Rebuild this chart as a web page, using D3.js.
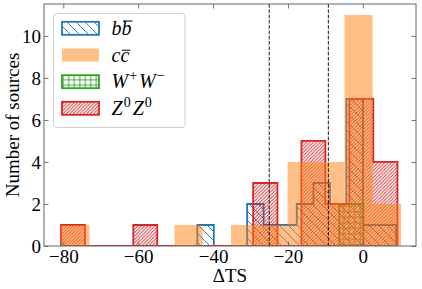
<!DOCTYPE html>
<html>
<head>
<meta charset="utf-8">
<script src="https://cdn.jsdelivr.net/npm/d3@7"></script>
<style>
  body { margin: 0; background: #fff; }
  svg text { font-family: "Liberation Serif", "DejaVu Serif", serif; }
</style>
</head>
<body>
<div id="chart"></div>
<script>
// histogram bins (edges in ΔTS, counts = number of sources)
const bbEdges = [-44.2, -39.8, -35.35, -30.9, -26.5, -22.1, -17.65, -13.2, -8.8, -4.4, 0.05, 4.5, 8.9];
const bbCounts = [1, 0, 0, 2, 1, 1, 2, 3, 2, 7, 1, 1];

const ccEdges = [-80.6, -73.0, -65.5, -57.9, -50.3, -42.8, -35.2, -27.6, -20.1, -12.5, -4.9, 2.6, 10.2];
const ccCounts = [1, 0, 0, 0, 1, 0, 1, 1, 4, 4, 11, 2];

const wwEdges = [-6.3, -3.1, 0.15];
const wwCounts = [2, 2];

const zzEdges = [-80.6, -74.2, -67.8, -61.3, -54.9, -48.5, -42.1, -35.7, -29.3, -22.8, -16.4, -10.0, -3.6, 2.8, 9.25];
const zzCounts = [1, 0, 0, 1, 0, 0, 0, 0, 3, 0, 5, 2, 7, 4];

const thresholds = [-25, -9.21];
const xTicks = [-80, -60, -40, -20, 0];
const yTicks = [0, 2, 4, 6, 8, 10];

const W = 422, H = 289;
const plot = { left: 44, right: 416, top: 4, bottom: 246 };
const fontSize = 19;

const svg = d3.select("#chart").append("svg")
    .attr("width", W)
    .attr("height", H);

const x = d3.scaleLinear().domain([-85.15, 14.2]).range([plot.left, plot.right]);
const y = d3.scaleLinear().domain([0, 11.52]).range([plot.bottom, plot.top]);

const defs = svg.append("defs");

// hatch patterns
function diagPattern(id, size, color, dir) {
    let p = defs.append("pattern")
        .attr("id", id)
        .attr("patternUnits", "userSpaceOnUse")
        .attr("width", size)
        .attr("height", size);
    let s = size;
    let d = dir === "/"
        ? `M${-s},${s} L${s},${-s} M0,${s * 2} L${s * 2},0 M0,${s} L${s},0`
        : `M0,0 L${s},${s} M${-s},0 L${s},${s * 2} M0,${-s} L${s * 2},${s}`;
    p.append("path")
        .attr("d", d)
        .attr("stroke", color)
        .attr("stroke-width", 0.9)
        .attr("fill", "none");
}
diagPattern("hatchBlue", 9, "#1f77b4", "\\");
diagPattern("hatchRed", 3.4, "#d62728", "/");

let grid = defs.append("pattern")
    .attr("id", "hatchGreen")
    .attr("patternUnits", "userSpaceOnUse")
    .attr("width", 5.5)
    .attr("height", 5.5);
grid.append("path")
    .attr("d", "M2.75,0 V5.5 M0,2.75 H5.5")
    .attr("stroke", "#2ca02c")
    .attr("stroke-width", 0.9)
    .attr("fill", "none");

defs.append("clipPath").attr("id", "plotClip")
    .append("rect")
    .attr("x", plot.left).attr("y", plot.top)
    .attr("width", plot.right - plot.left)
    .attr("height", plot.bottom - plot.top);

const g = svg.append("g").attr("clip-path", "url(#plotClip)");

// step outline of a histogram, closed along the baseline
const line = d3.line().x(d => x(d[0])).y(d => y(d[1]));
function stepPoints(edges, counts) {
    let pts = [[edges[0], 0]];
    counts.forEach((c, i) => {
        pts.push([edges[i], c]);
        pts.push([edges[i + 1], c]);
    });
    pts.push([edges[edges.length - 1], 0]);
    return pts;
}

const steps = [
    { edges: bbEdges, counts: bbCounts, color: "#1f77b4", hatch: "url(#hatchBlue)" },
    { edges: wwEdges, counts: wwCounts, color: "#2ca02c", hatch: "url(#hatchGreen)" },
    { edges: zzEdges, counts: zzCounts, color: "#d62728", hatch: "url(#hatchRed)" }
];

steps.forEach(s => {
    g.append("path")
        .attr("d", line(stepPoints(s.edges, s.counts)) + "Z")
        .attr("fill", s.hatch)
        .attr("stroke", s.color)
        .attr("stroke-width", 1.8)
        .attr("stroke-linejoin", "miter");
});

// c cbar: filled bars, translucent, drawn on top
const ccBins = ccCounts.map((c, i) => ({ x0: ccEdges[i], x1: ccEdges[i + 1], c: c }))
    .filter(d => d.c > 0);
g.selectAll(".ccbar").data(ccBins).enter()
    .append("rect")
    .attr("class", "ccbar")
    .attr("x", d => x(d.x0))
    .attr("y", d => y(d.c))
    .attr("width", d => x(d.x1) - x(d.x0))
    .attr("height", d => y(0) - y(d.c))
    .attr("fill", "#ff7f0e")
    .attr("fill-opacity", 0.5);

// threshold lines
g.selectAll(".thr").data(thresholds).enter()
    .append("line")
    .attr("x1", d => x(d)).attr("x2", d => x(d))
    .attr("y1", plot.top).attr("y2", plot.bottom)
    .attr("stroke", "#000")
    .attr("stroke-width", 0.9)
    .attr("stroke-dasharray", "3.7,1.6");

// axes
const spineColor = "#666";
function styleAxis(sel) {
    sel.select(".domain").remove();
    sel.selectAll(".tick line").attr("stroke", spineColor).attr("stroke-width", 0.9);
    sel.selectAll(".tick text").attr("fill", "#000").style("font-size", fontSize + "px");
}

svg.append("g")
    .attr("transform", `translate(0,${plot.bottom})`)
    .call(d3.axisBottom(x).tickValues(xTicks).tickSize(-4.5).tickPadding(3))
    .call(styleAxis);
svg.append("g")
    .attr("transform", `translate(0,${plot.top})`)
    .call(d3.axisTop(x).tickValues(xTicks).tickSize(-4.5).tickFormat(""))
    .call(styleAxis);
svg.append("g")
    .attr("transform", `translate(${plot.left},0)`)
    .call(d3.axisLeft(y).tickValues(yTicks).tickSize(-4.5).tickPadding(3))
    .call(styleAxis);
svg.append("g")
    .attr("transform", `translate(${plot.right},0)`)
    .call(d3.axisRight(y).tickValues(yTicks).tickSize(-4.5).tickFormat(""))
    .call(styleAxis);

svg.append("rect")
    .attr("x", plot.left).attr("y", plot.top)
    .attr("width", plot.right - plot.left)
    .attr("height", plot.bottom - plot.top)
    .attr("fill", "none")
    .attr("stroke", spineColor)
    .attr("stroke-width", 1);

// axis labels
svg.append("text")
    .attr("x", (plot.left + plot.right) / 2)
    .attr("y", 282)
    .attr("text-anchor", "middle")
    .style("font-size", fontSize + "px")
    .text("ΔTS");

svg.append("text")
    .attr("transform", `translate(19,${(plot.top + plot.bottom) / 2}) rotate(-90)`)
    .attr("text-anchor", "middle")
    .style("font-size", fontSize + "px")
    .text("Number of sources");

// legend
const leg = svg.append("g");
leg.append("rect")
    .attr("x", 53.5).attr("y", 13.5)
    .attr("width", 131.5).attr("height", 114)
    .attr("rx", 3)
    .attr("fill", "#fff").attr("fill-opacity", 0.8)
    .attr("stroke", "#ccc").attr("stroke-width", 0.9);

const legendY = [28.3, 55, 81.7, 108.3];
const legendItems = [
    { fill: "url(#hatchBlue)", stroke: "#1f77b4", opacity: 1 },
    { fill: "#ff7f0e", stroke: "none", opacity: 0.5 },
    { fill: "url(#hatchGreen)", stroke: "#2ca02c", opacity: 1 },
    { fill: "url(#hatchRed)", stroke: "#d62728", opacity: 1 }
];
legendItems.forEach((it, i) => {
    leg.append("rect")
        .attr("x", 62).attr("y", legendY[i] - 6.5)
        .attr("width", 37).attr("height", 13)
        .attr("fill", it.fill)
        .attr("fill-opacity", it.opacity)
        .attr("stroke", it.stroke)
        .attr("stroke-width", 1.8);
});

function legendText(i) {
    return leg.append("text")
        .attr("x", 111.5)
        .attr("y", legendY[i] + 6.7)
        .style("font-size", "20px");
}
function overbar(t, idx, rise) {
    let node = t.node();
    let a = node.getStartPositionOfChar(idx);
    let b = node.getEndPositionOfChar(idx);
    leg.append("line")
        .attr("x1", a.x + 1.5).attr("x2", b.x + 1)
        .attr("y1", a.y - rise).attr("y2", a.y - rise)
        .attr("stroke", "#000").attr("stroke-width", 1);
}

let t0 = legendText(0).style("font-style", "italic").text("bb");
overbar(t0, 1, 14);

let t1 = legendText(1).style("font-style", "italic").text("cc");
overbar(t1, 1, 11.5);

function supLabel(t, base, sup) {
    base.forEach((b, i) => {
        t.append("tspan").attr("dx", i ? 2 : 0).attr("dy", i ? 8 : 0)
            .style("font-style", "italic").text(b);
        t.append("tspan").attr("dx", 1).attr("dy", -8)
            .style("font-size", "14px").text(sup[i]);
    });
}
supLabel(legendText(2), ["W", "W"], ["+", "−"]);
supLabel(legendText(3), ["Z", "Z"], ["0", "0"]);
</script>
</body>
</html>
